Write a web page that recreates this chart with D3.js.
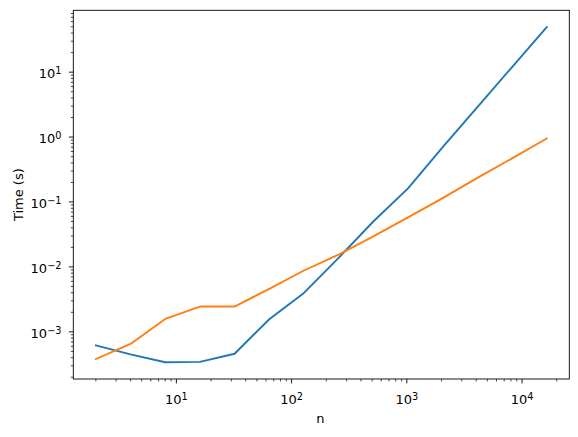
<!DOCTYPE html>
<html><head><meta charset="utf-8">
<script src="https://cdn.jsdelivr.net/npm/d3@7"></script>
<style>body{margin:0;background:#fff}svg{display:block}text{font-family:"DejaVu Sans",sans-serif;fill:#000}</style>
</head><body><svg id="c" width="578" height="437"></svg>
<script>
const nValues = [2,4,8,16,32,64,128,256,512,1024,2048,4096,8192,16384];
const seriesBlue = [6.2e-4,4.5e-4,3.4e-4,3.45e-4,4.6e-4,1.56e-3,3.98e-3,1.38e-2,5.0e-2,0.162,0.70,2.9,12.0,49.5];
const seriesOrange = [3.8e-4,6.5e-4,1.58e-3,2.45e-3,2.45e-3,4.6e-3,8.8e-3,1.55e-2,2.95e-2,5.8e-2,0.115,0.235,0.47,0.95];
const xMajorTicks = [10,100,1000,10000];
const yMajorTicks = [1e-3,1e-2,1e-1,1,10];
const colors = ["#1f77b4","#ff7f0e"];

const svg = d3.select("#c");
const L=73.3, R=569.3, T=10.3, B=379;
const FS = 13;

function logDomain(vals){
  const lo=Math.log10(d3.min(vals)), hi=Math.log10(d3.max(vals)), m=(hi-lo)*0.05;
  return [Math.pow(10,lo-m), Math.pow(10,hi+m)];
}
const x = d3.scaleLog().domain(logDomain(nValues)).range([L,R]);
const y = d3.scaleLog().domain(logDomain(seriesBlue.concat(seriesOrange))).range([B,T]);

function minorTicks(scale){
  const [a,b]=scale.domain(); const out=[];
  for(let e=Math.floor(Math.log10(a)); e<=Math.ceil(Math.log10(b)); e++){
    for(let m=2;m<=9;m++){ const v=m*Math.pow(10,e); if(v>=a&&v<=b) out.push(v); }
  }
  return out;
}

const g = svg.append("g");
const line = d3.line().x((d,i)=>x(nValues[i])).y(d=>y(d));
[seriesBlue, seriesOrange].forEach((s,i)=>{
  g.append("path").attr("d",line(s)).attr("fill","none").attr("stroke",colors[i])
   .attr("stroke-width",1.9).attr("stroke-linejoin","round").attr("stroke-linecap","square");
});
g.append("rect").attr("x",L).attr("y",T).attr("width",R-L).attr("height",B-T)
 .attr("fill","none").attr("stroke","#000").attr("stroke-width",0.9);

function expLabel(sel, e){
  sel.append("tspan").text("10");
  sel.append("tspan").attr("dy","-0.42em").attr("font-size","0.75em").text(e<0?"\u2212"+(-e):String(e));
}
const xa = svg.append("g");
xMajorTicks.forEach(v=>{
  const px=x(v);
  xa.append("line").attr("x1",px).attr("x2",px).attr("y1",B).attr("y2",B+4.4).attr("stroke","#000").attr("stroke-width",0.9);
  const t=xa.append("text").attr("x",px).attr("y",B+25).attr("text-anchor","middle").attr("font-size",FS);
  expLabel(t, Math.round(Math.log10(v)));
});
minorTicks(x).forEach(v=>{
  const px=x(v);
  xa.append("line").attr("x1",px).attr("x2",px).attr("y1",B).attr("y2",B+2.5).attr("stroke","#000").attr("stroke-width",0.7);
});
const ya = svg.append("g");
yMajorTicks.forEach(v=>{
  const py=y(v);
  ya.append("line").attr("x1",L-4.4).attr("x2",L).attr("y1",py).attr("y2",py).attr("stroke","#000").attr("stroke-width",0.9);
  const t=ya.append("text").attr("x",61.5).attr("y",py+6).attr("text-anchor","end").attr("font-size",FS);
  expLabel(t, Math.round(Math.log10(v)));
});
minorTicks(y).forEach(v=>{
  const py=y(v);
  ya.append("line").attr("x1",L-2.5).attr("x2",L).attr("y1",py).attr("y2",py).attr("stroke","#000").attr("stroke-width",0.7);
});
svg.append("text").attr("x",320.3).attr("y",423.3).attr("text-anchor","middle").attr("font-size",FS).text("n");
svg.append("text").attr("transform",`translate(23,${(T+B)/2}) rotate(-90)`).attr("text-anchor","middle").attr("font-size",FS).text("Time (s)");
</script></body></html>
